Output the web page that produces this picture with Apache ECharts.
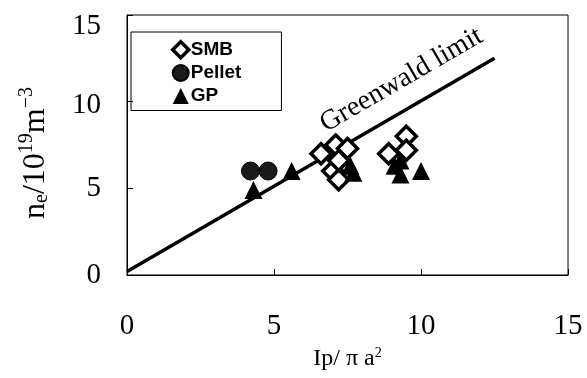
<!DOCTYPE html>
<html><head><meta charset="utf-8">
<script src="https://cdn.jsdelivr.net/npm/echarts@6/dist/echarts.min.js"></script>
<style>html,body{margin:0;padding:0;background:#fff}#c{width:587px;height:378px}</style>
</head><body><div id="c"></div>
<script>
var xTicks = [0, 5, 10, 15];
var yTicks = [0, 5, 10, 15];
var smbData = [[6.6,7.0],[7.1,7.5],[7.5,7.3],[7.0,6.0],[7.2,5.5],[7.2,6.6],[8.9,7.0],[9.5,8.0],[9.5,7.2]];
var pelletData = [[4.2,6.0],[4.8,6.0]];
var gpData = [[4.3,4.9],[5.6,6.0],[7.6,6.3],[7.7,5.9],[9.1,6.3],[9.3,5.8],[10.0,6.0],[9.3,6.6]];
var greenwaldData = [[0,0.2],[12.5,12.5]];
var greenwaldLabel = 'Greenwald limit';

var chart = echarts.init(document.getElementById('c'), null, {renderer:'canvas'});
var serif = '"Liberation Serif","Times New Roman",serif';
var sans = '"Liberation Sans",Arial,sans-serif';
chart.setOption({
  animation:false,
  backgroundColor:'#fff',
  grid:{left:127, right:19, top:15, bottom:103, show:true, borderColor:'#000', borderWidth:1},
  legend:{
    orient:'vertical', left:131, top:32,
    padding:[8,40,5,40], itemGap:4, itemWidth:16, itemHeight:16,
    borderColor:'#000', borderWidth:1,
    textStyle:{fontFamily:sans, fontSize:19, lineHeight:16, color:'#000', fontWeight:'bold', padding:[0,0,0,-3]},
    data:[
      {name:'SMB', itemStyle:{borderWidth:3.5, borderColor:'#000', color:'#fff'}},
      {name:'Pellet'},
      {name:'GP'}
    ]
  },
  xAxis:{
    type:'value', min:0, max:15, interval:5,
    axisLine:{show:true, lineStyle:{color:'#000', width:1}},
    axisTick:{show:true, inside:true, length:6, lineStyle:{color:'#000'}},
    splitLine:{show:false},
    axisLabel:{fontFamily:serif, fontSize:29, color:'#000', margin:37},
    name:'{a|Ip/ \u03c0 a}{s|2}', nameLocation:'middle', nameGap:70,
    nameTextStyle:{rich:{
      a:{fontFamily:serif, fontSize:24, color:'#000'},
      s:{fontFamily:serif, fontSize:14, color:'#000', padding:[0,0,11,0]}
    }}
  },
  yAxis:{
    type:'value', min:0, max:15, interval:5,
    axisLine:{show:true, lineStyle:{color:'#000', width:1}},
    axisTick:{show:true, inside:true, length:6, lineStyle:{color:'#000'}},
    splitLine:{show:false},
    axisLabel:{fontFamily:serif, fontSize:29, color:'#000', margin:26,
      formatter:function(v){ return v===15 ? '{d|'+v+'}' : (v===10 ? '{e|'+v+'}' : v); },
      rich:{d:{fontFamily:serif, fontSize:29, color:'#000', padding:[22,0,0,0]},
            e:{fontFamily:serif, fontSize:29, color:'#000', padding:[8,0,0,0]}}
    },
    name:'{a|n}{b|e}{a|/10}{c|19}{a|m}{c|\u22123}', nameLocation:'middle', nameGap:72, nameRotate:90,
    nameTextStyle:{padding:[0,16,0,0], rich:{
      a:{fontFamily:serif, fontSize:32, color:'#000'},
      b:{fontFamily:serif, fontSize:20, color:'#000', padding:[12,0,0,0]},
      c:{fontFamily:serif, fontSize:20, color:'#000', padding:[0,0,18,0]}
    }}
  },
  series:[
    {name:'Greenwald', type:'line', data:greenwaldData, symbol:'none', silent:true,
      lineStyle:{color:'#000', width:3.5}, z:1,
      markLine:{symbol:'none', silent:true, lineStyle:{color:'rgba(0,0,0,0)', width:1},
        label:{show:true, position:'insideEndTop', formatter:greenwaldLabel,
          fontFamily:serif, fontSize:28, color:'#000', distance:[0,14]},
        data:[[{coord:greenwaldData[0]},{coord:greenwaldData[1]}]]}
    },
    {name:'SMB', type:'scatter', data:smbData, symbol:'diamond', symbolSize:20,
      itemStyle:{color:'#fff', borderColor:'#000', borderWidth:3.5, opacity:1}, z:3},
    {name:'Pellet', type:'scatter', data:pelletData, symbol:'circle', symbolSize:18,
      itemStyle:{color:'#1a1a1a', borderColor:'#000', borderWidth:1, opacity:1}, z:3},
    {name:'GP', type:'scatter', data:gpData, symbol:'triangle', symbolSize:18,
      itemStyle:{color:'#000', opacity:1}, z:4}
  ]
});
</script></body></html>
